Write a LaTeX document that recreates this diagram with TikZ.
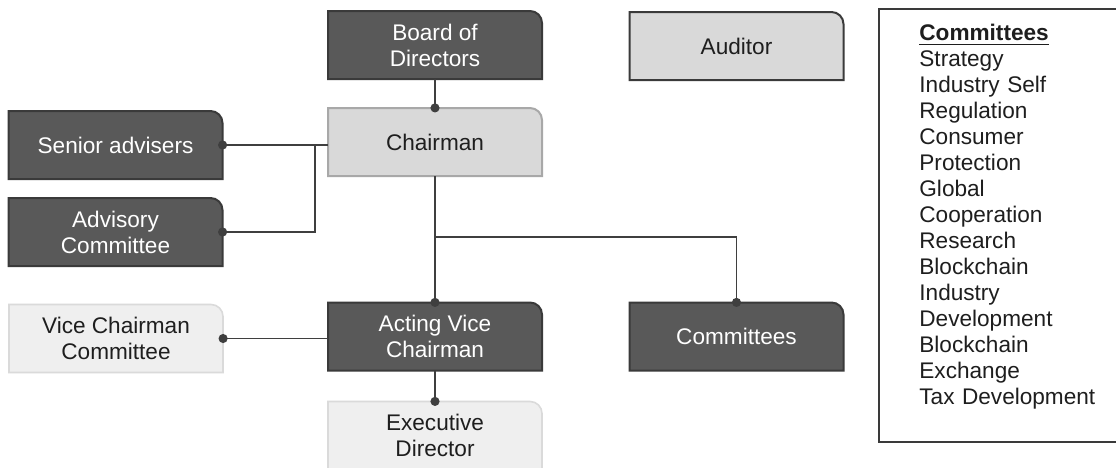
\documentclass[tikz,border=0pt]{standalone}
\usepackage{fontspec}
\setmainfont{Liberation Sans}
\usetikzlibrary{arrows.meta, backgrounds, calc, positioning}
\definecolor{boxdark}{HTML}{595959}
\definecolor{edgedark}{HTML}{3A3A3A}
\definecolor{boxmid}{HTML}{D9D9D9}
\definecolor{edgemid}{HTML}{A8A8A8}
\definecolor{boxpale}{HTML}{EFEFEF}
\definecolor{edgepale}{HTML}{DADADA}
\definecolor{linegray}{HTML}{3F3F3F}
\definecolor{textgray}{HTML}{1E1E1E}
\tikzset{> = { Circle[length = 4.5pt] }}

\begin{document}
\begin{tikzpicture}[x = 0.5pt, y = -0.5pt,
		box/.style = { minimum width = 107pt, minimum height = 34pt, inner sep = 0pt, outer sep = 0pt, align = center, font = \fontsize{11.3}{13}\selectfont },
		dark/.style = { box, text = white },
		light/.style = { box, text = textgray },
		darkfill/.style = { fill = boxdark, draw = edgedark, line width = 1pt },
		midfill/.style = { fill = boxmid, draw = edgemid, line width = 1pt },
		auditfill/.style = { fill = boxmid, draw = edgedark, line width = 1pt },
		palefill/.style = { fill = boxpale, draw = edgepale, line width = 0.8pt },
		link/.style = { ->, draw = linegray, line width = 0.9pt, shorten > = -2.2pt }]
		\useasboundingbox (0, 0) rectangle (1116, 467);

		\node [dark]                       (board)    at (435, 45)    {Board of\\Directors};
		\node [light, below = 14.5pt of board] (chair) {Chairman};
		\node [dark]                       (senior)   at (115.5, 145) {Senior advisers};
		\node [dark]                       (advisory) at (115.5, 232) {Advisory\\Committee};
		\node [light]                      (auditor)  at (736.5, 46)  {Auditor};
		\node [light]                      (vice)     at (116, 338.5) {Vice Chairman\\Committee};
		\node [dark]                       (acting)   at (435, 336.5) {Acting Vice\\Chairman};
		\node [light, below = 15.5pt of acting] (exec) {Executive\\Director};
		\node [dark]                       (comm)     at (736.5, 336.5) {Committees};

		\node [draw = edgedark, line width = 1pt, minimum width = 130pt, minimum height = 216.5pt, inner sep = 0pt, outer sep = 0pt, anchor = north west] (legend) at (879, 9) {};
		\node [anchor = north west, text width = 110pt, align = left, inner sep = 0pt, text = textgray, font = \fontsize{11.3}{13}\selectfont] (list) at ([xshift = 20pt, yshift = -7.6pt] legend.north west)
			{\underline{\textbf{Committees}}\\Strategy\\Industry Self\\Regulation\\Consumer\\Protection\\Global\\Cooperation\\Research\\Blockchain\\Industry\\Development\\Blockchain\\Exchange\\Tax Development};

		% box outlines with one rounded corner, drawn under the texts
		\begin{scope}[on background layer]
			\fill [white] (0, 0) rectangle (1116, 467);
			\foreach \n/\s in {board/darkfill, chair/midfill, senior/darkfill, advisory/darkfill, auditor/auditfill, vice/palefill, acting/darkfill, exec/palefill, comm/darkfill}
				\draw [\s] (\n.south west) -- (\n.north west) -- ([xshift = -6pt] \n.north east) arc [start angle = 90, end angle = 0, radius = 6pt] -- (\n.south east) -- cycle;
		\end{scope}

		\coordinate [left = 6.5pt of chair.west] (tie);
		\coordinate [below = 30.5pt of chair.south] (fork);

		\draw [link] (board) -- (chair);
		\draw [link] (senior.east -| chair.west) -- (senior.east);
		\draw [link] (tie |- senior.east) |- (advisory.east);
		\draw [link] (chair) -- (acting);
		\draw [link] (fork) -| (comm);
		\draw [link] (vice.east -| acting.west) -- (vice.east);
		\draw [link] (acting) -- (exec);
	\end{tikzpicture}
\end{document}
